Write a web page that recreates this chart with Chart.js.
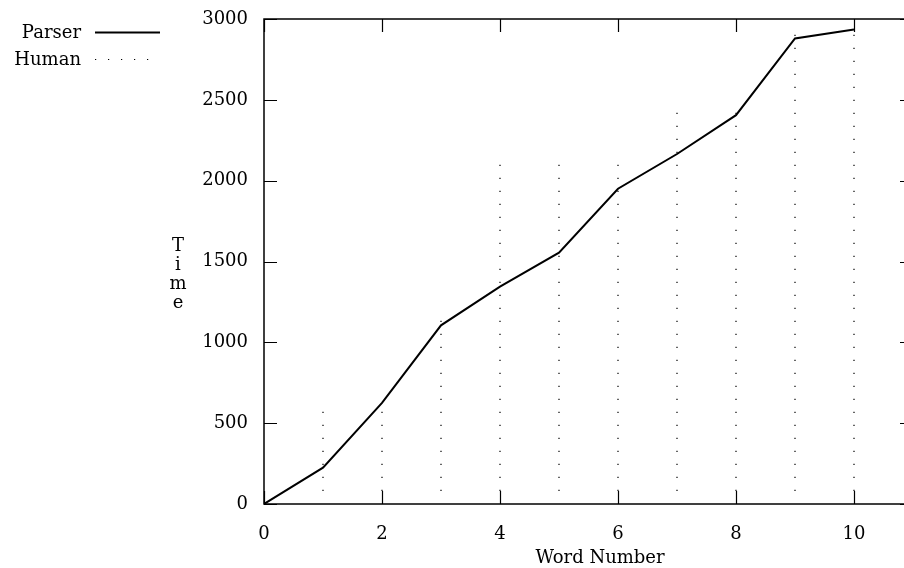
<!DOCTYPE html>
<html>
<head>
<meta charset="utf-8">
<script src="https://cdn.jsdelivr.net/npm/chart.js@4/dist/chart.umd.min.js"></script>
<style>
    html, body { margin: 0; padding: 0; background: #fff; overflow: hidden; }
    #wrap { width: 904px; height: 568px; overflow: hidden; }
</style>
</head>
<body>
<div id="wrap"><canvas id="chart" width="930" height="568"></canvas></div>
<script>
// === DATA ===
const wordNumbers = [0, 1, 2, 3, 4, 5, 6, 7, 8, 9, 10];
const parserTimes = [0, 225, 625, 1105, 1345, 1555, 1950, 2165, 2405, 2880, 2935];

// human timings shown as vertical ranges per word
const humanWords = [1, 2, 3, 4, 5, 6, 7, 8, 9, 10];
const humanLow = [80, 80, 80, 80, 80, 80, 80, 80, 80, 80];
const humanHigh = [625, 620, 1150, 2110, 2110, 2110, 2485, 2485, 2940, 2945];

const xTicks = [0, 2, 4, 6, 8, 10];
const yTicks = [0, 500, 1000, 1500, 2000, 2500, 3000];

const FONT = '"DejaVu Serif", serif';

// build the broken human series: low -> high, then a gap
const humanPoints = [];
humanWords.forEach((w, i) => {
    humanPoints.push({ x: w, y: humanLow[i] });
    humanPoints.push({ x: w, y: humanHigh[i] });
    humanPoints.push({ x: w, y: null });
});

// gnuplot-like frame, inward ticks, legend and labels
const framePlugin = {
    id: 'frame',
    afterDatasetsDraw(chart) {
        const { ctx, chartArea: a, scales } = chart;
        ctx.save();
        ctx.strokeStyle = '#000';
        ctx.lineWidth = 1.5;
        ctx.strokeRect(a.left, a.top, a.right - a.left, a.bottom - a.top);

        ctx.lineWidth = 1.2;
        const len = 13;
        xTicks.forEach(v => {
            const px = Math.round(scales.x.getPixelForValue(v)) + 0.5;
            ctx.beginPath();
            ctx.moveTo(px, a.bottom); ctx.lineTo(px, a.bottom - len);
            ctx.moveTo(px, a.top); ctx.lineTo(px, a.top + len);
            ctx.stroke();
        });
        yTicks.forEach(v => {
            const py = Math.round(scales.y.getPixelForValue(v)) + 0.5;
            ctx.beginPath();
            ctx.moveTo(a.left, py); ctx.lineTo(a.left + len, py);
            ctx.moveTo(a.right, py); ctx.lineTo(a.right - len, py);
            ctx.stroke();
        });

        // legend, text right-aligned then a line sample
        ctx.font = '18px ' + FONT;
        ctx.fillStyle = '#000';
        ctx.textAlign = 'right';
        ctx.textBaseline = 'middle';
        chart.data.datasets.forEach((ds, i) => {
            const y = 32 + i * 27;
            ctx.fillText(ds.label, 81, y + 1);
            ctx.beginPath();
            ctx.strokeStyle = ds.borderColor;
            ctx.lineWidth = ds.borderWidth;
            ctx.setLineDash(ds.borderDash || []);
            ctx.moveTo(95, y + 0.5);
            ctx.lineTo(160, y + 0.5);
            ctx.stroke();
        });
        ctx.setLineDash([]);

        // axis titles
        ctx.textAlign = 'center';
        ctx.fillText('Word Number', 600, 558);
        ['T', 'i', 'm', 'e'].forEach((ch, i) => {
            ctx.fillText(ch, 178, 246 + i * 19);
        });
        ctx.restore();
    }
};

const ctx = document.getElementById('chart').getContext('2d');
new Chart(ctx, {
    type: 'line',
    data: {
        datasets: [
            {
                label: 'Parser',
                data: wordNumbers.map((w, i) => ({ x: w, y: parserTimes[i] })),
                borderColor: '#000',
                borderWidth: 2,
                pointRadius: 0,
                tension: 0
            },
            {
                label: 'Human',
                data: humanPoints,
                borderColor: '#000',
                borderWidth: 1.2,
                borderDash: [1.2, 11.8],
                pointRadius: 0,
                spanGaps: false
            }
        ]
    },
    options: {
        responsive: false,
        animation: false,
        layout: { padding: { top: 19, right: 17, left: 0, bottom: 0 } },
        plugins: { legend: { display: false }, tooltip: { enabled: false } },
        scales: {
            x: {
                type: 'linear',
                min: 0,
                max: 11,
                afterFit: scale => {
                    scale.height = 64;
                    scale.paddingLeft = 0;
                    scale.paddingRight = 0;
                },
                afterBuildTicks: scale => { scale.ticks = xTicks.map(v => ({ value: v })); },
                grid: { display: false, drawTicks: false },
                border: { display: false },
                ticks: {
                    color: '#000',
                    font: { family: FONT, size: 18 },
                    padding: 20,
                    maxRotation: 0,
                    callback: v => String(v)
                }
            },
            y: {
                min: 0,
                max: 3000,
                afterFit: scale => {
                    scale.width = 264;
                    scale.paddingTop = 0;
                    scale.paddingBottom = 0;
                },
                afterBuildTicks: scale => { scale.ticks = yTicks.map(v => ({ value: v })); },
                grid: { display: false, drawTicks: false },
                border: { display: false },
                ticks: {
                    color: '#000',
                    font: { family: FONT, size: 18 },
                    padding: 16,
                    callback: v => String(v)
                }
            }
        }
    },
    plugins: [framePlugin]
});
</script>
</body>
</html>
